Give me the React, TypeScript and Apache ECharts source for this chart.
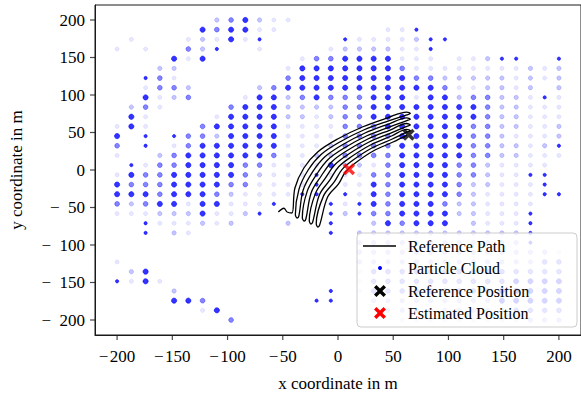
import React, { useEffect, useRef } from "react";
import * as echarts from "echarts";

// particle grid positions (same for x and y), 32 steps from -200 to 200
const gridCoords = [
  -200, -187.1, -174.2, -161.3, -148.4, -135.5, -122.6, -109.7, -96.8, -83.9, -71.0,
  -58.1, -45.2, -32.3, -19.4, -6.5, 6.5, 19.4, 32.3, 45.2, 58.1, 71.0, 83.9, 96.8,
  109.7, 122.6, 135.5, 148.4, 161.3, 174.2, 187.1, 200,
];

// particle weights per grid cell; rows from y = 200 (top) to y = -200 (bottom),
// columns from x = -200 to 200. '.' none, 1..4 faint..strong, 's' small solid
const cloudRows = [
  ".......234211...................",
  "......434411.......11s..........",
  ".1...12141s.....s11112ss........",
  "1.1..32s..1....1222211s.........",
  "....414......1334444111.112ss..s",
  "...22.......14444444311111111212",
  "..s31.......34444444433222221212",
  "..1332....23444444444443112212.2",
  "..4123...144234333444144233221s1",
  ".231....344422223344444444322111",
  ".41....1444422123344444444322111",
  "141...34444411113334444443322112",
  "4.s.s332444411113333444443321112",
  "3.s.134444441112333344444332212s",
  "1..23444444311223333444443322111",
  ".s13344443311114221344443321111.",
  "14334444432111s11133444433211ss.",
  "43334444331111s.11434444322111s.",
  "4443444321111ss.s1434444321111ss",
  "32344144111s...s1s434443221111..",
  "1112224112s....s2s33444422111s..",
  "..s111212...2..s..243444.2111s..",
  "..s.21.........s.222222222222s..",
  ".................222222222222s..",
  ".................222222222222221",
  "1................222222222222233",
  ".24..............133333333333333",
  "s141.............133333333334444",
  "....2..........s.133333333344444",
  "....443.......ss..22222222244444",
  "......14...........2222222223333",
  "........3...........111111111222",
];

const levelSize: Record<string, number> = { "1": 4.2, "2": 4.4, "3": 4.8, "4": 5.2, s: 3.3 };
const levelAlpha: Record<string, number> = { "1": 0.12, "2": 0.28, "3": 0.6, "4": 1, s: 1 };

const xTicks = [-200, -150, -100, -50, 0, 50, 100, 150, 200];
const yTicks = [-200, -150, -100, -50, 0, 50, 100, 150, 200];

// reference path: back-and-forth arcs
const referencePath = [
  [-54, -56], [-49, -51], [-46, -56],
  [-41.7, -57.3], [-39.0, -24.0], [-30.9, 2.7], [-18.4, 24.0], [-0.4, 41.3], [22.0, 57.3], [44.4, 69.3], [62.3, 77.3],
  [65.5, 75.4],
  [62.3, 73.5], [45.1, 65.3], [23.2, 53.3], [1.6, 37.3], [-15.3, 20.7], [-27.0, 0.0], [-35.3, -25.5], [-38.6, -59.3],
  [-37.0, -64.0],
  [-35.4, -61.3], [-31.6, -27.0], [-23.0, -2.6], [-12.1, 17.3], [3.6, 33.3], [24.5, 49.3], [45.8, 61.3], [62.3, 69.6],
  [65.5, 67.7],
  [62.3, 65.8], [46.4, 57.3], [25.7, 45.3], [5.6, 29.3], [-9.0, 14.0], [-19.1, -5.3], [-27.9, -28.5], [-32.3, -63.3],
  [-30.7, -68.0],
  [-29.1, -65.3], [-24.2, -30.0], [-15.2, -8.0], [-5.8, 10.7], [7.6, 25.3], [27.0, 41.3], [47.1, 53.3], [62.3, 62.0],
  [65.5, 60.0],
  [62.3, 58.1], [47.8, 49.3], [28.2, 37.3], [9.7, 21.3], [-2.7, 7.3], [-11.3, -10.6], [-20.5, -31.5], [-26.0, -67.3],
  [-24.5, -72.0],
  [-22.9, -69.3], [-16.8, -33.0], [-7.3, -13.3], [0.4, 4.0], [11.7, 17.3], [29.4, 33.3], [48.5, 45.3], [62.3, 54.3],
  [65.5, 52.3],
  [62.3, 50.4], [49.2, 41.3], [30.7, 29.3], [13.7, 13.3], [3.6, 0.6], [-3.4, -15.9], [-13.1, -34.5], [-19.7, -71.3],
  [-18.2, -76.0],
  [-16.6, -73.3], [-9.4, -36.0], [0.5, -18.6], [6.7, -2.7], [15.7, 9.3], [31.9, 25.3], [49.8, 37.3], [62.3, 46.6],
];

const referencePosition = [64, 47];
const estimatedPosition = [10, 1];

const legendLabels = ["Reference Path", "Particle Cloud", "Reference Position", "Estimated Position"];

const X_PATH = "M0,2 L2,0 L5,3 L8,0 L10,2 L7,5 L10,8 L8,10 L5,7 L2,10 L0,8 L3,5 Z";
const X_POINTS = [[0, 2], [2, 0], [5, 3], [8, 0], [10, 2], [7, 5], [10, 8], [8, 10], [5, 7], [2, 10], [0, 8], [3, 5]];

const FONT = "Liberation Serif";
const AXIS_COLOR = "#1a1a1a";
const AXIS_MIN = -220;
const AXIS_MAX = 220;
const TICK_LEN = 5;

function xPolygon(cx: number, cy: number, s: number, color: string) {
  return {
    type: "polygon",
    z: 101,
    shape: { points: X_POINTS.map(([px, py]) => [cx + (px - 5) * s, cy + (py - 5) * s]) },
    style: { fill: color },
  };
}

export default function App() {
  const ref = useRef<HTMLDivElement>(null);
  useEffect(() => {
    document.body.style.margin = "0";
    const chart = echarts.init(ref.current!, null, { renderer: "svg" });

    const cloud: any[] = [];
    cloudRows.forEach((row, j) => {
      for (let i = 0; i < row.length; i++) {
        const c = row[i];
        if (c === ".") continue;
        const a = levelAlpha[c];
        const col = `rgba(0,0,255,${a})`;
        cloud.push({
          value: [gridCoords[i], gridCoords[31 - j]],
          symbolSize: levelSize[c],
          itemStyle: { color: col, borderColor: col, borderWidth: 0.7 },
        });
      }
    });

    const fmtX = (v: number) => (v < 0 ? "\u2212\u200A" + Math.abs(v) : String(v));
    const fmtY = (v: number) => (v < 0 ? "\u2212\u2002" + Math.abs(v) : String(v));

    const lx = 357, ly = 233;
    const textStyle = (t: string, y: number) => ({
      type: "text",
      z: 101,
      x: 408,
      y,
      style: { text: t, fontSize: 16, fontFamily: FONT, fill: "#000", verticalAlign: "middle", align: "left" },
    });

    chart.setOption({
      animation: false,
      backgroundColor: "#fff",
      grid: {
        left: 95,
        top: 5,
        width: 490.6,
        height: 330,
        show: true,
        borderColor: AXIS_COLOR,
        borderWidth: 1,
        backgroundColor: "transparent",
      },
      xAxis: {
        type: "value",
        position: "bottom",
        min: AXIS_MIN,
        max: AXIS_MAX,
        splitLine: { show: false },
        axisLine: { show: true, onZero: false, lineStyle: { color: AXIS_COLOR, width: 1 } },
        axisTick: { show: false },
        axisLabel: {
          margin: 13,
          fontSize: 17,
          fontFamily: FONT,
          color: "#000",
          formatter: fmtX,
          customValues: xTicks,
        },
        name: "x coordinate in m",
        nameLocation: "middle",
        nameGap: 40,
        nameTextStyle: { fontSize: 17, fontFamily: FONT, color: "#000" },
      },
      yAxis: {
        type: "value",
        position: "left",
        min: AXIS_MIN,
        max: AXIS_MAX,
        splitLine: { show: false },
        axisLine: { show: true, onZero: false, lineStyle: { color: AXIS_COLOR, width: 1 } },
        axisTick: { show: false },
        axisLabel: {
          margin: 10,
          fontSize: 17,
          fontFamily: FONT,
          color: "#000",
          formatter: fmtY,
          customValues: yTicks,
        },
        name: "y coordinate in m",
        nameLocation: "middle",
        nameRotate: 90,
        nameGap: 70,
        nameTextStyle: { fontSize: 17, fontFamily: FONT, color: "#000" },
      },
      series: [
        {
          name: legendLabels[1],
          type: "scatter",
          data: cloud,
          z: 2,
          itemStyle: { color: "#0000ff" },
        },
        {
          name: legendLabels[0],
          type: "line",
          data: referencePath,
          showSymbol: false,
          symbol: "none",
          smooth: 0.35,
          z: 3,
          lineStyle: { color: "#000", width: 1.3 },
        },
        {
          name: legendLabels[2],
          type: "scatter",
          data: [referencePosition],
          symbol: "path://" + X_PATH,
          symbolSize: 12,
          z: 4,
          itemStyle: { color: "#000" },
        },
        {
          name: legendLabels[3],
          type: "scatter",
          data: [estimatedPosition],
          symbol: "path://" + X_PATH,
          symbolSize: 12,
          z: 4,
          itemStyle: { color: "#ff0000" },
        },
        {
          name: "xticks",
          type: "scatter",
          silent: true,
          clip: false,
          z: 6,
          data: xTicks.map((v) => [v, AXIS_MIN]),
          symbol: "rect",
          symbolSize: [1.2, TICK_LEN],
          symbolOffset: [0, TICK_LEN / 2],
          itemStyle: { color: AXIS_COLOR },
        },
        {
          name: "yticks",
          type: "scatter",
          silent: true,
          clip: false,
          z: 6,
          data: yTicks.map((v) => [AXIS_MIN, v]),
          symbol: "rect",
          symbolSize: [TICK_LEN, 1.2],
          symbolOffset: [-TICK_LEN / 2, 0],
          itemStyle: { color: AXIS_COLOR },
        },
      ],
      graphic: [
        {
          type: "rect",
          z: 100,
          shape: { x: lx, y: ly, width: 220, height: 94, r: 4 },
          style: { fill: "rgba(255,255,255,0.8)", stroke: "#cccccc", lineWidth: 1 },
        },
        {
          type: "line",
          z: 101,
          shape: { x1: 363, y1: 246, x2: 396, y2: 246 },
          style: { stroke: "#000", lineWidth: 1.3 },
        },
        { type: "circle", z: 101, shape: { cx: 380, cy: 268, r: 2 }, style: { fill: "#0000ff" } },
        xPolygon(380, 291, 1.2, "#000"),
        xPolygon(380, 313, 1.2, "#ff0000"),
        textStyle(legendLabels[0], 246),
        textStyle(legendLabels[1], 268),
        textStyle(legendLabels[2], 291),
        textStyle(legendLabels[3], 313),
      ],
    });

    return () => chart.dispose();
  }, []);
  return <div ref={ref} style={{ width: 581, height: 401 }} />;
}
